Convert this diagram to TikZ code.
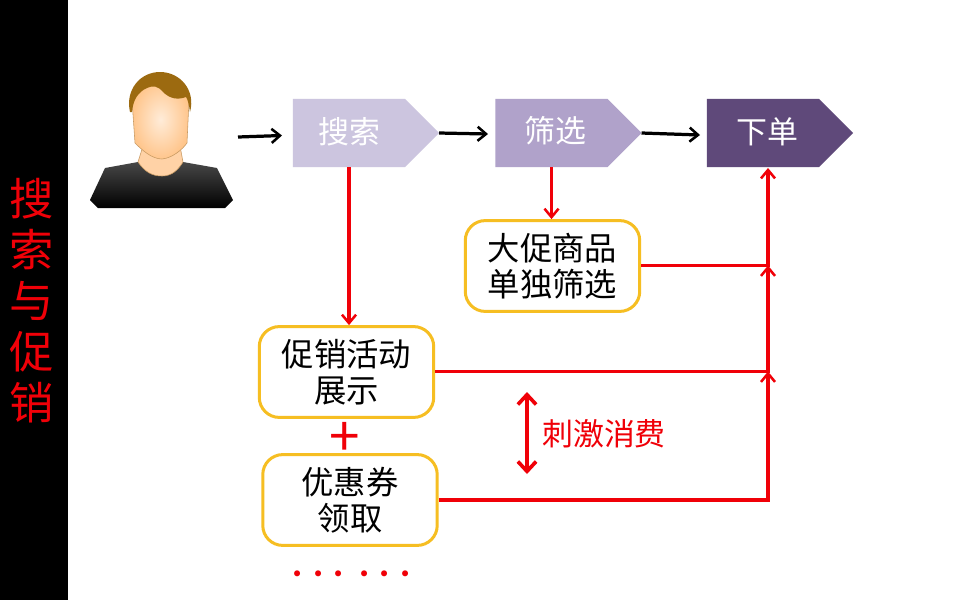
\documentclass[tikz,border=0pt]{standalone}
\usepackage{fontspec}
\setmainfont{Noto Sans CJK SC}
\usetikzlibrary{arrows.meta, shapes.symbols}

\definecolor{stepa}{HTML}{CCC5DF}
\definecolor{stepb}{HTML}{B0A2CA}
\definecolor{stepc}{HTML}{5F497A}
\definecolor{boxgold}{HTML}{F6BE22}
\definecolor{promored}{HTML}{F00008}
\definecolor{hairbrown}{HTML}{9C6A10}
\definecolor{skinedge}{HTML}{C89A62}

\newcommand{\onedot}{\makebox[14.6pt]{·}}

\tikzset{
  stage/.style={signal, signal to=east, signal pointer angle=90, minimum width=3.65cm,
    minimum height=1.7cm, inner sep=0pt, outer sep=0pt},
  stagetext/.style={text=white, font=\fontsize{22}{26}\selectfont},
  promobox/.style={draw=boxgold, line width=2.13pt, rounded corners=0.5cm, fill=white,
    minimum width=4.36cm, minimum height=2.27cm, inner sep=0pt, align=center,
    font=\fontsize{23}{25.6}\selectfont},
  flowblack/.style={-{Straight Barb[length=6pt,width=10pt,line width=1.8pt]}, line width=2.3pt},
  flowred/.style={-{Straight Barb[length=6pt,width=10pt,line width=1.8pt]}, line width=2.4pt, promored}
}

\begin{document}
\begin{tikzpicture}[x=0.025cm, y=-0.025cm]

  % Canvas and side bar
  \fill[white] (0,0) rectangle (960,600);
  \fill[black] (0,0) rectangle (68,600);
  \node[text=promored, align=center, font=\fontsize{31.5}{36.3}\selectfont] (sidetitle) at (32,301)
    {搜\\索\\与\\促\\销};

  % Person
  \path[top color=black!72, bottom color=black]
    (90,200) -- (105,168) -- (138,162) -- (183,162) -- (217,168) -- (233,200)
    -- (225,208) -- (98,208) -- cycle;
  \draw[skinedge, fill=orange!35!white, line width=0.4pt]
    (143,146) -- (138,162) .. controls (145,172) and (152,176) .. (162,176)
    .. controls (172,176) and (178,170) .. (183,162) -- (180,146) -- cycle;
  \draw[skinedge, inner color=orange!15!white, outer color=orange!45!white, line width=0.4pt]
    (132,100) -- (135,143) .. controls (142,150) and (152,159) .. (162,159)
    .. controls (172,158) and (182,150) .. (187,143) -- (189,100)
    .. controls (180,80) and (140,80) .. (132,100) -- cycle;
  \fill[hairbrown]
    (130,112) .. controls (125,90) and (140,72) .. (160,72)
    .. controls (180,72) and (196,90) .. (190,112)
    .. controls (189,105) and (188,100) .. (186,97)
    .. controls (178,100) and (170,99) .. (163,92)
    .. controls (158,86) and (153,85) .. (147,88)
    .. controls (138,92) and (133,100) .. (132,112) -- cycle;

  % Stages
  \node[stage, fill=stepa] (search) at (349,133) {};
  \node[stage, fill=stepb] (filter) at (551.5,133) {};
  \node[stage, fill=stepc] (order) at (763,133) {};
  \node[stagetext] (searchtext) at (349,132) {搜索};
  \node[stagetext] (filtertext) at (555,131) {筛选};
  \node[stagetext] (ordertext) at (767,132) {下单};

  % Boxes
  \node[promobox] (bigsale) at (552.5,266) {大促商品\\单独筛选};
  \node[promobox] (campaign) at (346.5,372) {促销活动\\展示};
  \node[promobox] (coupon) at (350,500) {优惠券\\领取};
  \node[text=promored, font=\fontsize{39}{39}\selectfont] (plus) at (345,439) {+};
  \node[text=promored, font=\fontsize{20}{20}\selectfont] (more) at (351.5,578)
    {\onedot\onedot\onedot\kern3.4pt\onedot\onedot\onedot};
  \node[text=promored, font=\fontsize{22}{26}\selectfont] (boost) at (604,434) {刺激消费};

  % Black arrows
  \coordinate (personside) at (238,137);
  \coordinate (searchin) at (282,135.5);
  \coordinate (filterin) at (488,134);
  \coordinate (orderin) at (700,135);
  \draw[flowblack] (personside) -- (searchin);
  \draw[flowblack] (search.east) -- (filterin);
  \draw[flowblack] (filter.east) -- (orderin);

  % Red arrows
  \coordinate (busx) at (768,168);
  \coordinate (busa) at (768,265.5);
  \coordinate (busb) at (768,371.5);
  \draw[flowred] (search.south) -- (search.south |- campaign.north);
  \draw[flowred] (filter.south) -- (filter.south |- bigsale.north);
  \draw[flowred] (bigsale.east |- busa) -- (busa) -- (busx);
  \draw[flowred] (campaign.east |- busb) -- (busb) -- (busa);
  \draw[flowred] (coupon.east) -| (busb);

  % Boost marker
  \coordinate (boosttop) at (527,392);
  \coordinate (boostbot) at (527,474);
  \draw[{Straight Barb[length=7pt,width=13pt,line width=2.6pt]}-{Straight Barb[length=7pt,width=13pt,line width=2.6pt]},
    line width=3.2pt, promored] (boosttop) -- (boostbot);

\end{tikzpicture}
\end{document}
